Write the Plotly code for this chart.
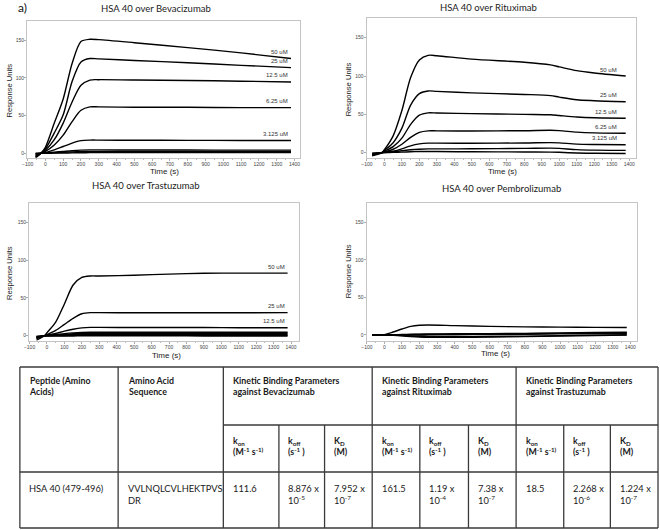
import plotly.graph_objects as go

W, H = 660, 530

# ---------------- data ----------------
CONC_LABELS = ["50 uM", "25 uM", "12.5 uM", "6.25 uM", "3.125 uM"]
PANEL_TITLES = ["HSA 40 over Bevacizumab", "HSA 40 over Rituximab",
                "HSA 40 over Trastuzumab", "HSA 40 over Pembrolizumab"]
X_TITLE = "Time (s)"
Y_TITLE = "Response Units"

# Bevacizumab
BEV_T = [-55, -25, 0, 50, 100, 150, 200, 250, 300, 500, 800, 1100, 1380]
BEV_50 = [-6, 0, 8, 40, 72, 119, 148, 151, 150.5, 146.5, 140, 133, 125.5]
BEV_25 = [-5, 0, 6, 27, 51, 95, 121, 125.5, 125, 123, 120, 116.5, 113.5]
BEV_12 = [-4, 0, 4, 18, 40, 68, 90, 97, 97.5, 97, 96.5, 95.5, 94.5]
BEV_6 = [-3, 0, 2.5, 11, 24, 42, 57, 61.5, 61.5, 61, 61, 60.5, 60.5]
BEV_3 = [-2, 0, 1, 4.5, 9, 13.5, 16.8, 17.5, 17.5, 17.3, 17.2, 17, 17]
BEV_1 = [-1, 0, 0.5, 1.5, 2.5, 3.5, 4.2, 4.5, 4.5, 4.4, 4.3, 4.2, 4.2]
BEV_0A = [-0.5, 0, 0.3, 0.8, 1.3, 1.8, 2.2, 2.4, 2.5, 2.5, 2.5, 2.5, 2.5]
BEV_0B = [0, 0, 0, 0.2, 0.4, 0.6, 0.8, 0.9, 1, 1, 1, 1, 1]

# Rituximab
RIT_T = [-70, -15, 0, 50, 100, 150, 200, 250, 300, 500, 800, 950, 1000, 1100, 1200, 1380]
RIT_50 = [-4, 0, 4, 22, 55, 98, 121, 127, 126.5, 122, 118, 114.5, 112, 107, 104, 100]
RIT_25 = [-3, 0, 3, 13, 32, 62, 77, 80.5, 80, 78, 76, 74.5, 72.5, 69, 67.8, 66.5]
RIT_12 = [-2.5, 0, 2, 8, 19, 37, 49, 52, 51.8, 51, 50, 49.5, 48.5, 46.5, 45.5, 45]
RIT_6 = [-2, 0, 1, 4.5, 11, 20, 26.5, 28.5, 28.5, 28.3, 28.7, 29.2, 28.8, 26.8, 25.8, 25.3]
RIT_3 = [-1.5, 0, 0.5, 2, 5, 9, 11.5, 12.5, 12.5, 12.3, 12.7, 13.2, 12.8, 11.2, 10.7, 10.3]
RIT_1 = [-1, 0, 0.3, 1.2, 2.5, 3.8, 4.6, 5, 5, 5.1, 5.6, 6, 5.6, 4, 3.3, 3]
RIT_0 = [-0.5, 0, 0.1, 0.4, 0.8, 1.2, 1.5, 1.6, 1.5, 1.2, 1, 0.8, 0.5, -0.4, -0.8, -1]

# Trastuzumab
TRA_T = [-60, -15, 0, 50, 100, 150, 200, 250, 300, 500, 700, 900, 1100, 1380]
TRA_50 = [-6, 0, 4, 18, 42, 67, 77, 79, 79, 80, 81.5, 82.5, 82.8, 82.8]
TRA_25 = [-4, 0, 1.5, 7, 15, 23, 29, 30.5, 30.5, 30.3, 30.3, 30.3, 30.4, 30.5]
TRA_12 = [-3, 0, 0.7, 3, 6, 8.5, 10.3, 11, 11, 10.8, 10.8, 10.9, 10.6, 10.5]
TRA_6 = [-2.5, 0, 0.5, 1.5, 2.8, 3.8, 4.4, 4.6, 4.6, 4.5, 4.5, 4.5, 4.5, 4.5]
TRA_3 = [-2, 0, 0.3, 1, 1.8, 2.5, 3, 3.2, 3.2, 3.2, 3.2, 3.2, 3.2, 3.3]
TRA_1 = [-1.5, 0, 0.1, 0.5, 1, 1.4, 1.7, 1.8, 1.8, 1.8, 1.8, 1.8, 1.8, 1.8]
TRA_0A = [-1, 0, 0, 0.1, 0.3, 0.5, 0.6, 0.7, 0.7, 0.7, 0.7, 0.6, 0.5, 0.5]
TRA_0B = [-1, -0.5, -0.5, -0.5, -0.4, -0.3, -0.2, -0.2, -0.2, -0.2, -0.2, -0.3, -0.3, -0.3]

# Pembrolizumab
PEM_T = [-70, 0, 50, 100, 150, 200, 250, 400, 600, 800, 1000, 1200, 1380]
PEM_A = [0, 0.5, 4, 8, 11.5, 13, 13.3, 12.5, 11.5, 10.8, 10.5, 10.2, 10]
PEM_B = [0, 0, 0.3, 0.6, 0.9, 1.2, 1.4, 1.6, 1.8, 2.2, 2.8, 3.3, 3.6]
PEM_C = [0, 0, 0.1, 0.3, 0.5, 0.7, 0.8, 1, 1.2, 1.6, 2.2, 2.7, 3]
PEM_D = [0, 0, 0, 0, 0, 0, 0.1, 0.3, 0.6, 1, 1.5, 1.9, 2.2]
PEM_E = [0, 0, -0.3, -0.8, -1.3, -1.7, -2, -2.2, -2, -1.5, -0.8, -0.2, 0.3]
PEM_F = [0, 0, -0.5, -1.2, -2, -2.6, -3, -3.2, -2.8, -2.2, -1.4, -0.6, -0.2]

# Table
TABLE_HEADERS = ["Peptide (Amino<br>Acids)", "Amino Acid<br>Sequence",
                 "Kinetic Binding Parameters<br>against Bevacizumab",
                 "Kinetic Binding Parameters<br>against Rituximab",
                 "Kinetic Binding Parameters<br>against Trastuzumab"]
SUB_HEADERS = ["k<sub>on</sub><br>(M<sup>-1</sup> s<sup>-1)</sup>",
               "k<sub>off</sub><br>(s<sup>-1</sup> )",
               "K<sub>D</sub><br>(M)"]
ROW_VALUES = ["HSA 40 (479-496)", "VVLNQLCVLHEKTPVS<br>DR",
              "111.6", "8.876 x<br>10<sup>-5</sup>", "7.952 x<br>10<sup>-7</sup>",
              "161.5", "1.19 x<br>10<sup>-4</sup>", "7.38 x<br>10<sup>-7</sup>",
              "18.5", "2.268 x<br>10<sup>-6</sup>", "1.224 x<br>10<sup>-7</sup>"]

# ---------------- layout helpers ----------------
def PX(x):
    return x / W

def PY(y):
    return 1 - y / H

panels = [
    dict(t=BEV_T, series=[BEV_50, BEV_25, BEV_12, BEV_6, BEV_3, BEV_1, BEV_0A, BEV_0B],
         box=(22.3, 297.7, 20.7, 157.7), xr=[-102.6, 1433], yr=[-5.8, 175.6],
         lab_x=1372, nlab=5,
         title_xy=(152.5, 8.2), xt_xy=(161, 172), yt_xy=(5.5, 90)),
    dict(t=RIT_T, series=[RIT_50, RIT_25, RIT_12, RIT_6, RIT_3, RIT_1, RIT_0],
         box=(364.3, 636, 18.3, 158.3), xr=[-102.2, 1440], yr=[-7.3, 175.3],
         lab_x=1340, nlab=5,
         title_xy=(487.5, 7.8), xt_xy=(501.3, 172), yt_xy=(347, 89)),
    dict(t=TRA_T, series=[TRA_50, TRA_25, TRA_12, TRA_6, TRA_3, TRA_1, TRA_0A, TRA_0B],
         box=(24.3, 296.7, 203.3, 340.7), xr=[-102.4, 1448], yr=[-6.6, 175.1],
         lab_x=1375, nlab=3,
         title_xy=(141.7, 185.8), xt_xy=(162.8, 355.8), yt_xy=(4.5, 272.5)),
    dict(t=PEM_T, series=[PEM_A, PEM_B, PEM_C, PEM_D, PEM_E, PEM_F],
         box=(364.3, 637.3, 203.3, 341), xr=[-101.7, 1441], yr=[-8, 175.3],
         lab_x=1370, nlab=0,
         title_xy=(500, 188.8), xt_xy=(494, 353.8), yt_xy=(346, 270.8)),
]

fig = go.Figure()
annotations = []
shapes = []
layout_axes = {}

TICK_FONT = dict(family="Liberation Sans", size=5, color="#444444")

for i, p in enumerate(panels, start=1):
    sfx = "" if i == 1 else str(i)
    xname, yname = "x" + sfx, "y" + sfx
    x0, x1, y0, y1 = p["box"]
    layout_axes["xaxis" + sfx] = dict(
        domain=[PX(x0), PX(x1)], range=p["xr"], anchor=yname,
        showline=True, mirror=True, linecolor="#c4c4c4", linewidth=1,
        ticks="outside", ticklen=2, tickcolor="#999999", tickwidth=0.8,
        tick0=0, dtick=100, tickfont=TICK_FONT, ticklabelstandoff=-1,
        minor=dict(ticks="outside", ticklen=1, dtick=50, tickcolor="#aaaaaa"),
        showgrid=False, zeroline=False, fixedrange=True)
    layout_axes["yaxis" + sfx] = dict(
        domain=[PY(y1), PY(y0)], range=p["yr"], anchor=xname,
        showline=True, mirror=True, linecolor="#c4c4c4", linewidth=1,
        ticks="outside", ticklen=2, tickcolor="#999999", tickwidth=0.8,
        tick0=0, dtick=50, tickfont=TICK_FONT, ticklabelstandoff=-1,
        showgrid=False, zeroline=False, fixedrange=True)
    for s in p["series"]:
        fig.add_trace(go.Scatter(
            x=p["t"], y=s, mode="lines", xaxis=xname, yaxis=yname,
            line=dict(color="black", width=1.4, shape="spline", smoothing=0.8),
            hoverinfo="skip"))
    for k in range(p["nlab"]):
        annotations.append(dict(
            x=p["lab_x"], y=p["series"][k][-1], xref=xname, yref=yname,
            text=CONC_LABELS[k], showarrow=False, xanchor="right", yanchor="bottom",
            yshift=1.5, font=dict(family="Liberation Sans", size=6, color="#333333")))
    tx, ty = p["title_xy"]
    annotations.append(dict(
        x=PX(tx), y=PY(ty), xref="paper", yref="paper", text=PANEL_TITLES[i - 1],
        showarrow=False, xanchor="center", yanchor="middle",
        font=dict(family="Lato", size=9.5, color="#222222")))
    ax, ay = p["xt_xy"]
    annotations.append(dict(
        x=PX(ax), y=PY(ay), xref="paper", yref="paper", text=X_TITLE,
        showarrow=False, xanchor="center", yanchor="middle",
        font=dict(family="Liberation Sans", size=8, color="#222222")))
    bx, by = p["yt_xy"]
    annotations.append(dict(
        x=PX(bx), y=PY(by), xref="paper", yref="paper", text=Y_TITLE,
        showarrow=False, xanchor="center", yanchor="middle", textangle=-90,
        font=dict(family="Liberation Sans", size=7.6, color="#222222")))

annotations.append(dict(
    x=PX(11), y=PY(7.5), xref="paper", yref="paper", text="a)", showarrow=False,
    xanchor="left", yanchor="middle", font=dict(family="Lato", size=12, color="#111111")))

# ---------------- table ----------------
COLS = [15, 114, 220, 276, 322, 370, 418, 467, 515, 563, 610, 658]
ROWS = [367, 425, 472, 528]
LINE = dict(color="#3a3a3a", width=1.3)

def hline(xa, xb, y):
    shapes.append(dict(type="line", xref="paper", yref="paper",
                       x0=PX(xa), x1=PX(xb), y0=PY(y), y1=PY(y), line=LINE))

def vline(x, ya, yb):
    shapes.append(dict(type="line", xref="paper", yref="paper",
                       x0=PX(x), x1=PX(x), y0=PY(ya), y1=PY(yb), line=LINE))

hline(COLS[0], COLS[-1], ROWS[0])
hline(COLS[2], COLS[-1], ROWS[1])
hline(COLS[0], COLS[-1], ROWS[2])
hline(COLS[0], COLS[-1], ROWS[3])
for c in [0, 1, 2, 5, 8, 11]:
    vline(COLS[c], ROWS[0], ROWS[3])
for c in [3, 4, 6, 7, 9, 10]:
    vline(COLS[c], ROWS[1], ROWS[3])

TFONT_B = dict(family="Lato", size=8.8, color="#1a1a1a")
TFONT = dict(family="Lato", size=9.3, color="#1a1a1a")
PAD = 7.5

header_cols = [0, 1, 2, 5, 8]
for txt, c in zip(TABLE_HEADERS, header_cols):
    annotations.append(dict(
        x=PX(COLS[c] + PAD), y=PY(372.5), xref="paper", yref="paper",
        text="<b>" + txt + "</b>", showarrow=False, xanchor="left", yanchor="top",
        align="left", font=TFONT_B))
for g in range(3):
    for j, txt in enumerate(SUB_HEADERS):
        c = 2 + g * 3 + j
        annotations.append(dict(
            x=PX(COLS[c] + PAD), y=PY(433), xref="paper", yref="paper",
            text="<b>" + txt + "</b>", showarrow=False, xanchor="left", yanchor="top",
            align="left", font=TFONT_B))
for c, txt in enumerate(ROW_VALUES):
    annotations.append(dict(
        x=PX(COLS[c] + PAD), y=PY(481), xref="paper", yref="paper",
        text=txt, showarrow=False, xanchor="left", yanchor="top",
        align="left", font=TFONT))

fig.update_layout(
    width=W, height=H, margin=dict(l=0, r=0, t=0, b=0),
    paper_bgcolor="white", plot_bgcolor="white", showlegend=False,
    font=dict(family="Liberation Sans"),
    annotations=annotations, shapes=shapes, **layout_axes)

fig.write_html("out.html",
               config={"displayModeBar": False, "staticPlot": True},
               post_script="document.body.style.margin='0';document.body.style.padding='0';"
                           "document.body.style.overflow='hidden';")
